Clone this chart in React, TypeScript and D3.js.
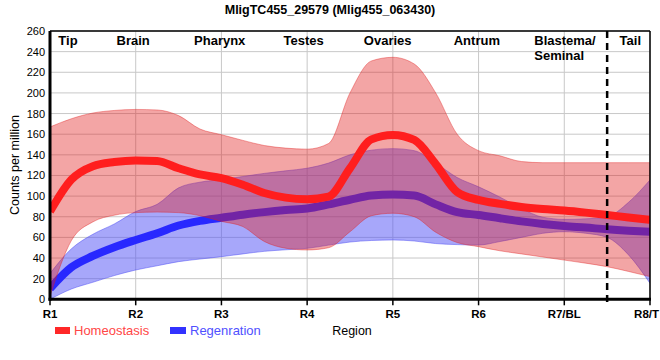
import React from "react";
import * as d3 from "d3";

const title = "MligTC455_29579 (Mlig455_063430)";
const tickLabels = ["R1", "R2", "R3", "R4", "R5", "R6", "R7/BL", "R8/T"];
const regionLabels = ["Tip", "Brain", "Pharynx", "Testes", "Ovaries", "Antrum", "Blastema/|Seminal", "Tail"];
const regionPos = [0.21, 0.97, 1.98, 2.96, 3.94, 4.98, 5.65, 6.77];
const yTicks = [0, 20, 40, 60, 80, 100, 120, 140, 160, 180, 200, 220, 240, 260];

// positions along the region axis (0 = R1 ... 7 = R8/T)
const xPos = [0, 0.25, 0.5, 0.75, 1, 1.25, 1.5, 1.75, 2, 2.25, 2.5, 2.75, 3, 3.25, 3.5, 3.75, 4, 4.25, 4.5, 4.75, 5, 5.25, 5.5, 5.75, 6, 6.25, 6.5, 6.75, 7];

const homeoMean = [85, 116, 129, 133, 134.5, 134, 127, 121, 117.5, 111, 103, 98.5, 97, 99.5, 127, 155, 159.3, 154.4, 131, 104, 96.3, 92.5, 89.5, 87.5, 86, 84, 81.7, 79.3, 77];
const homeoUpper = [167, 175, 180.5, 183, 184, 183.5, 178, 165, 159.5, 154, 149, 146.5, 145.5, 151, 200, 231, 234.5, 228, 200, 160, 144, 139, 133.5, 132.4, 132.4, 132.4, 132.4, 132.4, 132.4];
const homeoLower = [3, 57, 75, 81.5, 84, 84.5, 84, 81, 75.5, 70.5, 56, 49.5, 47.8, 50, 65.5, 81, 83.4, 80, 65, 55, 51, 47, 44, 41, 38, 35, 31.6, 27, 22];

const regenMean = [10.5, 31, 42, 50.5, 57.5, 64, 71.5, 76, 79, 82, 84.5, 86.5, 88, 92, 96.5, 100.5, 101.5, 100.5, 92, 84.5, 81.7, 78.5, 75.5, 73, 71, 69.5, 67.8, 66.5, 65.5];
const regenUpper = [25, 49, 63, 73, 85, 92, 108, 113.5, 116, 119, 122, 124.5, 127, 132, 140, 144.5, 146, 144, 132, 118, 109, 99, 88, 79.5, 77.5, 78, 80, 94, 115.7];
const regenLower = [0, 10, 16.5, 23, 28.4, 32.5, 36.5, 39, 41.3, 44, 46.5, 48, 49.4, 52.5, 55.5, 57, 57.5, 56.5, 54, 53, 52.6, 56, 60, 64, 65.5, 64, 60, 43, 15.5];

const dividerPos = 6.5;

export default function App() {
  const W = 660, H = 360;
  const left = 50, right = 650, top = 31, bottom = 299.3;
  const x = d3.scaleLinear().domain([0, 7]).range([left, right]);
  const y = d3.scaleLinear().domain([0, 260]).range([bottom, top]);

  const band = (lo: number[], hi: number[]) =>
    d3.area<number>()
      .x((_, i) => x(xPos[i]))
      .y0((_, i) => y(lo[i]))
      .y1((_, i) => y(hi[i]))
      .curve(d3.curveMonotoneX)(xPos.map((_, i) => i)) || "";
  const line = (v: number[]) =>
    d3.line<number>()
      .x((_, i) => x(xPos[i]))
      .y((_, i) => y(v[i]))
      .curve(d3.curveMonotoneX)(xPos.map((_, i) => i)) || "";

  const font = "Liberation Sans, Arial, sans-serif";

  return (
    <svg width={W} height={H} style={{ position: "absolute", left: 0, top: 0, background: "#fff" }} fontFamily={font}>
      <defs>
        <clipPath id="plot">
          <rect x={left} y={top} width={right - left} height={bottom - top} />
        </clipPath>
      </defs>
      <text x={330} y={14} textAnchor="middle" fontWeight="bold" fontSize={12.5}>{title}</text>

      {/* grid */}
      {yTicks.map((t) => (
        <line key={"gy" + t} x1={left} x2={right} y1={y(t)} y2={y(t)} stroke="#c8c8c8" strokeWidth={1} />
      ))}
      {tickLabels.map((_, i) => (
        <line key={"gx" + i} x1={x(i)} x2={x(i)} y1={top} y2={bottom} stroke="#c8c8c8" strokeWidth={1} />
      ))}

      <g clipPath="url(#plot)">
        <path d={band(regenLower, regenUpper)} fill="rgb(80,80,245)" fillOpacity={0.5} stroke="rgb(80,80,245)" strokeOpacity={0.5} strokeWidth={1} />
        <path d={line(regenMean)} fill="none" stroke="rgb(40,40,255)" strokeWidth={8} />
        <path d={band(homeoLower, homeoUpper)} fill="rgb(225,30,30)" fillOpacity={0.4} stroke="rgb(225,30,30)" strokeOpacity={0.4} strokeWidth={1} />
        <path d={line(homeoMean)} fill="none" stroke="rgb(255,30,30)" strokeWidth={8} />
      </g>

      {/* divider */}
      <line x1={x(dividerPos)} x2={x(dividerPos)} y1={top} y2={bottom + 6} stroke="#000" strokeWidth={2.5} strokeDasharray="7,5" />

      {/* frame */}
      <line x1={left} x2={right} y1={top} y2={top} stroke="#000" strokeWidth={1.5} />
      <line x1={right} x2={right} y1={top} y2={bottom} stroke="#000" strokeWidth={1.5} />
      <line x1={left} x2={left} y1={top} y2={bottom + 1.5} stroke="#000" strokeWidth={3} />
      <line x1={left - 1.5} x2={right + 1} y1={bottom} y2={bottom} stroke="#000" strokeWidth={3} />

      {/* y ticks */}
      {yTicks.map((t) => (
        <text key={"yt" + t} x={left - 5} y={y(t) + 4} textAnchor="end" fontSize={11} fill="#000">{t}</text>
      ))}
      {/* x ticks */}
      {tickLabels.map((l, i) => {
        const last = i === tickLabels.length - 1;
        return (
          <g key={"xt" + i}>
            <line x1={x(i)} x2={x(i)} y1={bottom} y2={bottom + 6} stroke="#000" strokeWidth={1.5} />
            <text x={last ? W - 1 : x(i)} y={318} textAnchor={last ? "end" : "middle"} fontSize={11.5} fontWeight="bold" fill="#000">{l}</text>
          </g>
        );
      })}

      {/* region labels */}
      {regionLabels.map((l, i) => {
        const parts = l.split("|");
        if (parts.length > 1) {
          return (
            <text key={"rl" + i} x={x(regionPos[i])} y={45} fontSize={13} fontWeight="bold" fill="#000">
              {parts.map((p, j) => (
                <tspan key={j} x={x(regionPos[i])} dy={j === 0 ? 0 : 14.5}>{p}</tspan>
              ))}
            </text>
          );
        }
        return (
          <text key={"rl" + i} x={x(regionPos[i])} y={45} textAnchor="middle" fontSize={13} fontWeight="bold" fill="#000">{l}</text>
        );
      })}

      {/* axis titles */}
      <text transform="translate(19,165) rotate(-90)" textAnchor="middle" fontSize={12.5} fill="#000">Counts per million</text>
      <text x={352} y={335} textAnchor="middle" fontSize={12.5} fill="#000">Region</text>

      {/* legend */}
      <rect x={55} y={327} width={15} height={7} fill="rgb(255,40,40)" />
      <text x={74} y={335} fontSize={13} fill="rgb(255,70,70)">Homeostasis</text>
      <rect x={170} y={327} width={16} height={7} fill="rgb(50,50,255)" />
      <text x={190} y={335} fontSize={13} fill="rgb(80,80,255)">Regenration</text>
    </svg>
  );
}
